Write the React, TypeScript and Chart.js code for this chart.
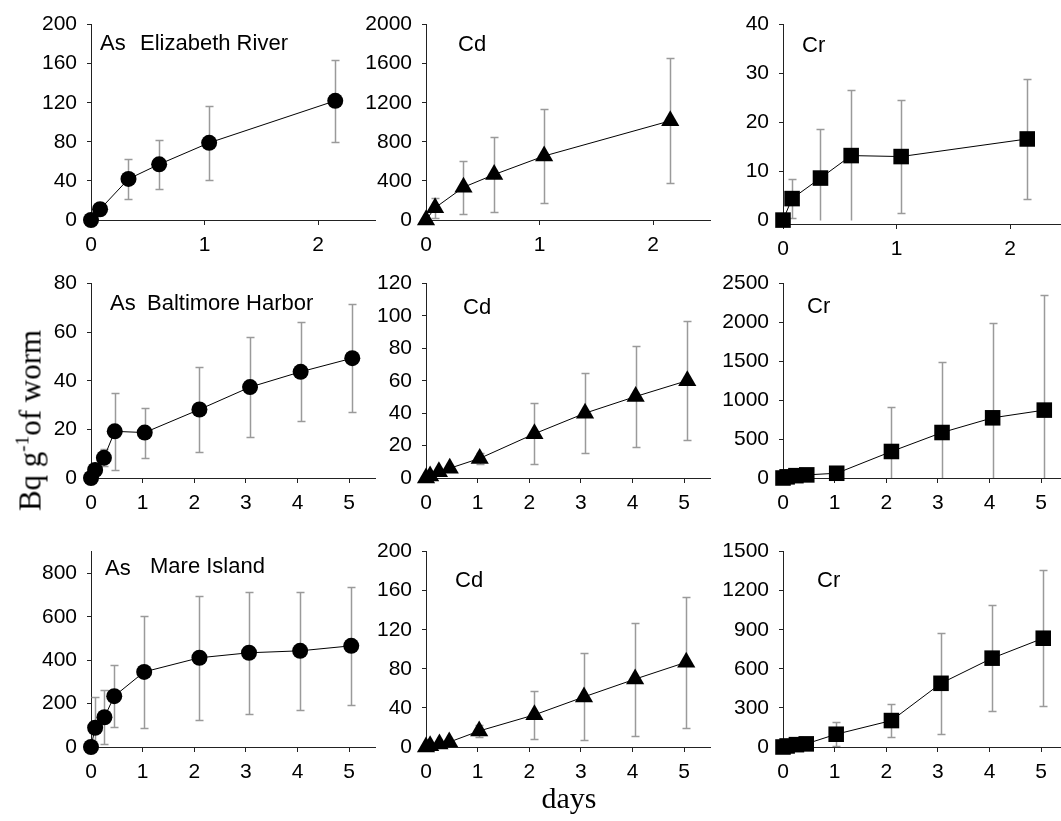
import React, { useEffect, useRef } from "react";
import { Chart, registerables } from "chart.js";
Chart.register(...registerables);

// ---- data (days, mean Bq g-1 of worm, SD) ----
const daysElizabeth = [0, 0.08, 0.33, 0.6, 1.04, 2.15];
const daysBaltimore = [0, 0.08, 0.25, 0.46, 1.04, 2.1, 3.08, 4.06, 5.06];
const daysMare = [0, 0.08, 0.26, 0.45, 1.03, 2.1, 3.06, 4.05, 5.04];

const asElizabeth = [0, 11, 42, 57, 79, 122];
const asElizabethSD = [0, 4, 20, 25, 38, 42];
const cdElizabeth = [0, 125, 335, 465, 655, 1015];
const cdElizabethSD = [0, 100, 270, 387, 485, 640];
const crElizabeth = [0, 4.4, 8.6, 13.2, 13.0, 16.6];
const crElizabethSD = [0, 4, 10.1, 13.4, 11.5, 12.2];

const asBaltimore = [0, 3.3, 8.3, 19.2, 18.7, 28.2, 37.4, 43.7, 49.3];
const asBaltimoreSD = [0, 1, 3.5, 15.8, 10.3, 17.3, 20.7, 20.4, 22.2];
const cdBaltimore = [0, 1.2, 3.8, 6, 12.1, 27.3, 40, 50.3, 60.1];
const cdBaltimoreSD = [0, 0.5, 1, 1.5, 3.6, 18.8, 24.6, 31, 36.8];
const crBaltimore = [0, 15, 30, 40, 61, 341, 585, 774, 873];
const crBaltimoreSD = [0, 10, 15, 20, 30, 577, 906, 1224, 1478];

const asMare = [0, 88.6, 137, 234, 346, 411, 434, 443, 466];
const asMareSD = [0, 140, 124, 144, 257, 285, 282, 271, 273];
const cdMare = [0, 1.2, 3, 5, 16.4, 32.9, 51.3, 69.5, 86.8];
const cdMareSD = [0, 0.5, 1, 1, 5.8, 24.6, 44.6, 57.9, 67];
const crMare = [0, 8, 18, 24, 98, 203, 489, 682, 835];
const crMareSD = [0, 5, 8, 10, 93, 129, 389, 409, 524];

// ---- tick labels ----
const xTicksShort = [0, 1, 2];
const xTicksLong = [0, 1, 2, 3, 4, 5];
const yTicksAsEliz = [0, 40, 80, 120, 160, 200];
const yTicksCdEliz = [0, 400, 800, 1200, 1600, 2000];
const yTicksCrEliz = [0, 10, 20, 30, 40];
const yTicksAsBalt = [0, 20, 40, 60, 80];
const yTicksCdBalt = [0, 20, 40, 60, 80, 100, 120];
const yTicksCrBalt = [0, 500, 1000, 1500, 2000, 2500];
const yTicksAsMare = [0, 200, 400, 600, 800];
const yTicksCdMare = [0, 40, 80, 120, 160, 200];
const yTicksCrMare = [0, 300, 600, 900, 1200, 1500];

// ---- panel labels ----
const labelsRow1 = ["As", "Elizabeth River"];
const labelsRow2 = ["As", "Baltimore Harbor"];
const labelsRow3 = ["As", "Mare Island"];

const PW = 284;
const PAD_L = 70, PAD_T = 15, PAD_R = 15, PAD_B = 4, XAX_H = 42;
const TICK_FONT = { family: '"Liberation Sans", Arial, sans-serif', size: 21 };
const LABEL_FONT = '22px "Liberation Sans", Arial, sans-serif';

type Spec = {
  left: number; top: number; height: number;
  xs: number[]; ys: number[]; sd: number[];
  xMax: number; xTicks: number[];
  yMin: number; yMax: number; yTicks: number[];
  pointStyle: string; radius: number;
  labels: { text: string; x: number; y: number }[];
};

const panels: Spec[] = [
  { left: 91, top: 17, height: 203, xs: daysElizabeth, ys: asElizabeth, sd: asElizabethSD, xMax: 2.5, xTicks: xTicksShort, yMin: 0, yMax: 200, yTicks: yTicksAsEliz, pointStyle: "circle", radius: 8,
    labels: [{ text: labelsRow1[0], x: 100, y: 50 }, { text: labelsRow1[1], x: 140, y: 50 }] },
  { left: 426, top: 17, height: 203, xs: daysElizabeth, ys: cdElizabeth, sd: cdElizabethSD, xMax: 2.5, xTicks: xTicksShort, yMin: 0, yMax: 2000, yTicks: yTicksCdEliz, pointStyle: "triangle", radius: 10.5,
    labels: [{ text: "Cd", x: 458, y: 51 }] },
  { left: 783, top: 17, height: 207, xs: daysElizabeth, ys: crElizabeth, sd: crElizabethSD, xMax: 2.5, xTicks: xTicksShort, yMin: -0.8, yMax: 40, yTicks: yTicksCrEliz, pointStyle: "rect", radius: 11,
    labels: [{ text: "Cr", x: 802, y: 51.5 }] },
  { left: 91, top: 276, height: 202, xs: daysBaltimore, ys: asBaltimore, sd: asBaltimoreSD, xMax: 5.5, xTicks: xTicksLong, yMin: 0, yMax: 80, yTicks: yTicksAsBalt, pointStyle: "circle", radius: 8,
    labels: [{ text: labelsRow2[0], x: 110, y: 310 }, { text: labelsRow2[1], x: 147, y: 310 }] },
  { left: 426, top: 276, height: 202, xs: daysBaltimore, ys: cdBaltimore, sd: cdBaltimoreSD, xMax: 5.5, xTicks: xTicksLong, yMin: 0, yMax: 120, yTicks: yTicksCdBalt, pointStyle: "triangle", radius: 10.5,
    labels: [{ text: "Cd", x: 463, y: 314 }] },
  { left: 783, top: 276, height: 202, xs: daysBaltimore, ys: crBaltimore, sd: crBaltimoreSD, xMax: 5.5, xTicks: xTicksLong, yMin: 0, yMax: 2500, yTicks: yTicksCrBalt, pointStyle: "rect", radius: 11,
    labels: [{ text: "Cr", x: 807, y: 313 }] },
  { left: 91, top: 544, height: 203, xs: daysMare, ys: asMare, sd: asMareSD, xMax: 5.5, xTicks: xTicksLong, yMin: 0, yMax: 900, yTicks: yTicksAsMare, pointStyle: "circle", radius: 8,
    labels: [{ text: labelsRow3[0], x: 105, y: 575 }, { text: labelsRow3[1], x: 150, y: 573 }] },
  { left: 426, top: 544, height: 203, xs: daysMare, ys: cdMare, sd: cdMareSD, xMax: 5.5, xTicks: xTicksLong, yMin: 0, yMax: 200, yTicks: yTicksCdMare, pointStyle: "triangle", radius: 10.5,
    labels: [{ text: "Cd", x: 455, y: 587 }] },
  { left: 783, top: 544, height: 203, xs: daysMare, ys: crMare, sd: crMareSD, xMax: 5.5, xTicks: xTicksLong, yMin: 0, yMax: 1500, yTicks: yTicksCrMare, pointStyle: "rect", radius: 11,
    labels: [{ text: "Cr", x: 817, y: 586.5 }] },
];

function Panel({ spec }: { spec: Spec }) {
  const ref = useRef<HTMLCanvasElement | null>(null);
  const cw = PAD_L + PW + PAD_R;
  const chh = PAD_T + spec.height + PAD_B + XAX_H;
  const cLeft = spec.left - PAD_L;
  const cTop = spec.top - PAD_T;

  useEffect(() => {
    if (!ref.current) return;
    const errorBars = {
      id: "errorBars",
      beforeDatasetsDraw(chart: any) {
        const { ctx, chartArea, scales } = chart;
        const xs = scales.x, ys = scales.y;
        ctx.save();
        ctx.beginPath();
        ctx.rect(chartArea.left, chartArea.top - 10, chartArea.right - chartArea.left, chartArea.bottom - chartArea.top + 10);
        ctx.clip();
        ctx.strokeStyle = "#9a9a9a";
        ctx.lineWidth = 1.5;
        spec.xs.forEach((xv, i) => {
          const e = spec.sd[i];
          if (!e) return;
          const v = spec.ys[i];
          const px = Math.round(xs.getPixelForValue(xv)) + 0.5;
          const hiV = v + e;
          const loV = Math.max(0, v - e);
          const pt = Math.round(ys.getPixelForValue(hiV)) + 0.5;
          const pb = Math.round(ys.getPixelForValue(loV)) + 0.5;
          ctx.beginPath();
          ctx.moveTo(px, pt);
          ctx.lineTo(px, pb);
          ctx.moveTo(px - 4, pt);
          ctx.lineTo(px + 4, pt);
          if (v - e >= 0) {
            ctx.moveTo(px - 4, pb);
            ctx.lineTo(px + 4, pb);
          }
          ctx.stroke();
        });
        ctx.restore();
      },
    };
    const panelText = {
      id: "panelText",
      afterDraw(chart: any) {
        const ctx = chart.ctx;
        ctx.save();
        ctx.fillStyle = "#000";
        ctx.font = LABEL_FONT;
        ctx.textAlign = "left";
        ctx.textBaseline = "alphabetic";
        spec.labels.forEach((l) => ctx.fillText(l.text, l.x - cLeft, l.y - cTop));
        ctx.restore();
      },
    };
    const chart = new Chart(ref.current, {
      type: "scatter",
      data: {
        datasets: [
          {
            data: spec.xs.map((x, i) => ({ x, y: spec.ys[i] })),
            showLine: true,
            borderColor: "#000",
            borderWidth: 1,
            pointStyle: spec.pointStyle as any,
            pointRadius: spec.radius,
            pointBackgroundColor: "#000",
            pointBorderColor: "#000",
            pointBorderWidth: 0,
            clip: false as any,
            tension: 0,
          },
        ],
      },
      options: {
        animation: false,
        responsive: false,
        events: [],
        layout: { padding: { left: 0, top: PAD_T, right: PAD_R, bottom: PAD_B } },
        plugins: { legend: { display: false }, tooltip: { enabled: false } },
        scales: {
          x: {
            type: "linear",
            min: 0,
            max: spec.xMax,
            afterFit: (s: any) => { s.height = XAX_H; },
            afterBuildTicks: (s: any) => { s.ticks = spec.xTicks.map((v) => ({ value: v })); },
            grid: { display: true, drawOnChartArea: false, drawTicks: true, tickLength: 5, color: "#222" },
            border: { display: true, color: "#222", width: 1 },
            ticks: { color: "#000", font: TICK_FONT, padding: 8, maxRotation: 0, autoSkip: false, callback: (v: any) => String(v) },
          },
          y: {
            type: "linear",
            min: spec.yMin,
            max: spec.yMax,
            afterFit: (s: any) => { s.width = PAD_L; },
            afterBuildTicks: (s: any) => { s.ticks = spec.yTicks.map((v) => ({ value: v })); },
            grid: { display: true, drawOnChartArea: false, drawTicks: true, tickLength: 4, color: "#222" },
            border: { display: true, color: "#222", width: 1 },
            ticks: { color: "#000", font: TICK_FONT, padding: 10, autoSkip: false, callback: (v: any) => String(v) },
          },
        },
      },
      plugins: [errorBars, panelText],
    } as any);
    return () => chart.destroy();
  }, []);

  return (
    <canvas
      ref={ref}
      width={cw}
      height={chh}
      style={{ position: "absolute", left: cLeft, top: cTop, width: cw, height: chh }}
    />
  );
}

export default function App() {
  return (
    <div style={{ position: "absolute", left: 0, top: 0, width: 1061, height: 821, overflow: "hidden", background: "#fff" }}>
      {panels.map((p, i) => (
        <Panel key={i} spec={p} />
      ))}
      <div
        style={{
          position: "absolute",
          left: 30 - 150,
          top: 420 - 15.5,
          width: 300,
          height: 31,
          lineHeight: "31px",
          fontSize: 31,
          fontFamily: '"Liberation Serif", "Times New Roman", serif',
          textAlign: "center",
          whiteSpace: "nowrap",
          transform: "rotate(-90deg)",
          transformOrigin: "center center",
          color: "#000",
        }}
      >
        Bq g<sup style={{ fontSize: 19, lineHeight: 0, verticalAlign: "12px" }}>-1</sup>of worm
      </div>
      <div
        style={{
          position: "absolute",
          left: 569 - 100,
          top: 783,
          width: 200,
          lineHeight: "30px",
          fontSize: 30,
          fontFamily: '"Liberation Serif", "Times New Roman", serif',
          textAlign: "center",
          color: "#000",
        }}
      >
        days
      </div>
    </div>
  );
}
